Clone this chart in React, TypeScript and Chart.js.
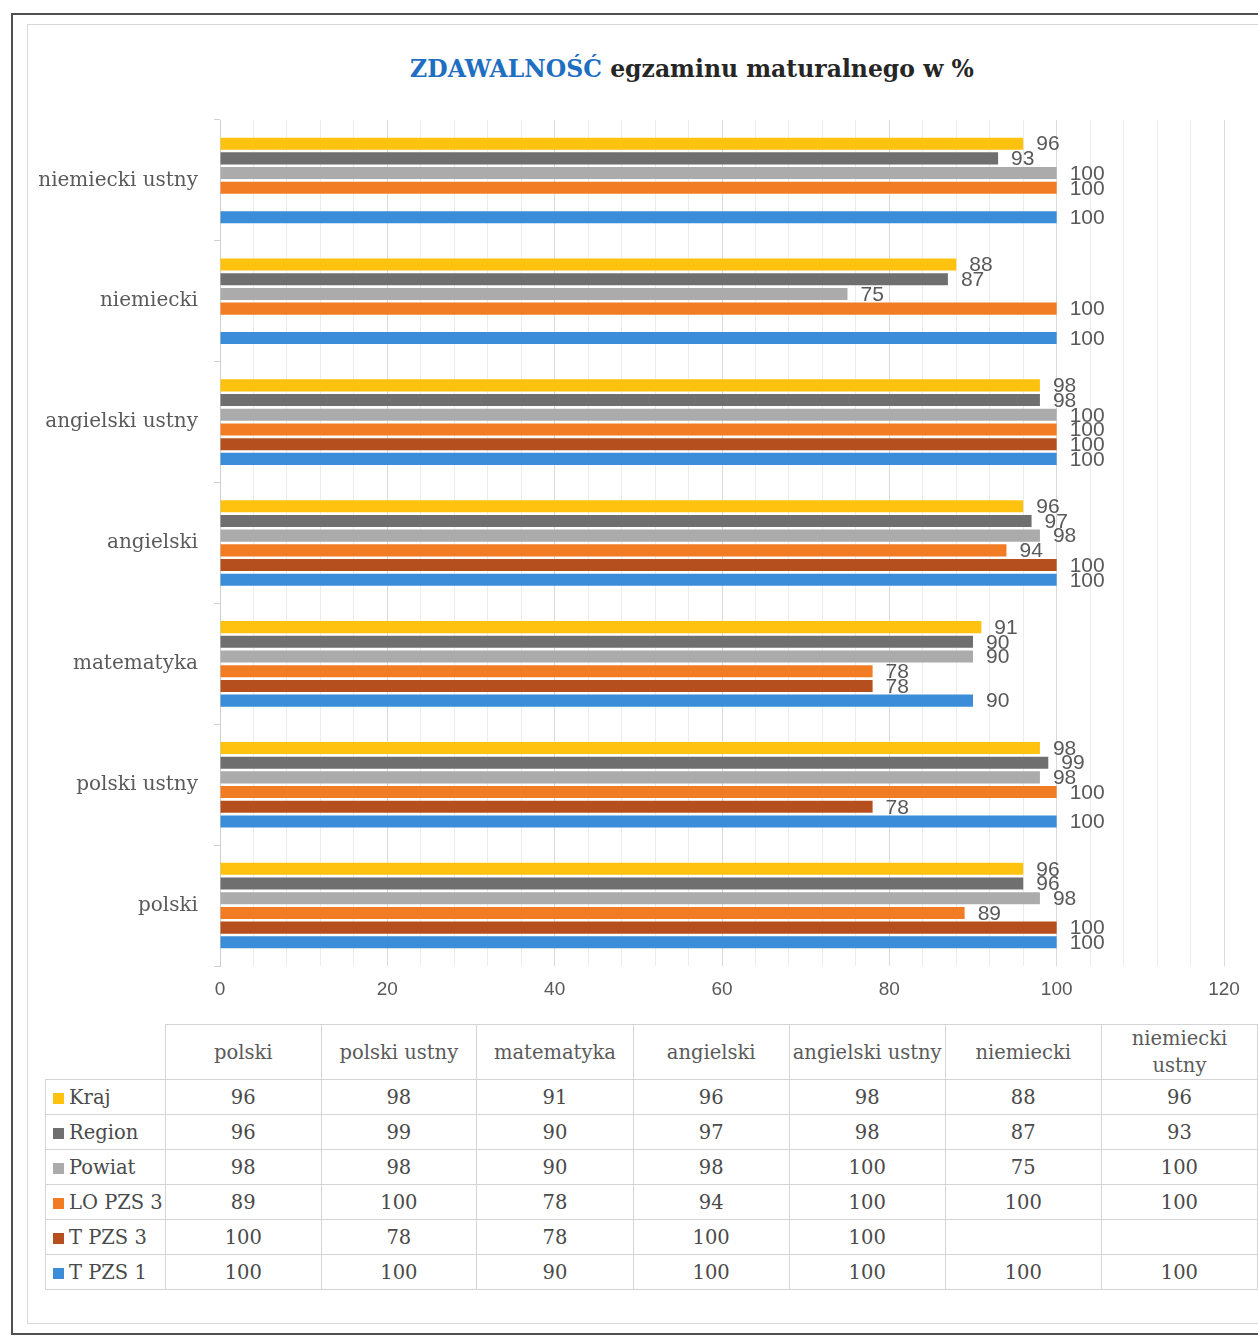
import React, { useEffect, useRef } from "react";
import { Chart, registerables } from "chart.js";

Chart.register(...registerables);

const categories = ["polski", "polski ustny", "matematyka", "angielski", "angielski ustny", "niemiecki", "niemiecki ustny"];
const tableHeaders = ["polski", "polski ustny", "matematyka", "angielski", "angielski ustny", "niemiecki", "niemiecki\nustny"];
const seriesNames = ["Kraj", "Region", "Powiat", "LO PZS 3", "T PZS 3", "T PZS 1"];
const kraj = [96, 98, 91, 96, 98, 88, 96];
const region = [96, 99, 90, 97, 98, 87, 93];
const powiat = [98, 98, 90, 98, 100, 75, 100];
const loPzs3 = [89, 100, 78, 94, 100, 100, 100];
const tPzs3: (number | null)[] = [100, 78, 78, 100, 100, null, null];
const tPzs1 = [100, 100, 90, 100, 100, 100, 100];
const seriesValues = [kraj, region, powiat, loPzs3, tPzs3, tPzs1];
const seriesColors = ["#FFC20E", "#6F6F6F", "#ABABAB", "#F27C24", "#B5501E", "#3B8CD9"];
const xMin = 0;
const xMax = 120;
const xLabelStep = 20;
const xGridStep = 4;

const SERIF = '"DejaVu Serif", "Liberation Serif", serif';
const SANS = '"Liberation Sans Narrow", "Liberation Sans", sans-serif';

const valueLabels = {
  id: "valueLabels",
  afterDatasetsDraw(chart: any) {
    const ctx = chart.ctx;
    ctx.save();
    ctx.font = `21px ${SANS}`;
    ctx.fillStyle = "#595959";
    ctx.textBaseline = "middle";
    ctx.textAlign = "left";
    chart.data.datasets.forEach((ds: any, di: number) => {
      const meta = chart.getDatasetMeta(di);
      meta.data.forEach((el: any, i: number) => {
        const v = ds.data[i];
        if (v === null || v === undefined) return;
        ctx.fillText(String(v), el.x + 13, el.y + 1);
      });
    });
    ctx.restore();
  },
};

function BarChart() {
  const ref = useRef<HTMLCanvasElement | null>(null);
  useEffect(() => {
    if (!ref.current) return;
    const labels = [...categories].reverse();
    const chart = new Chart(ref.current, {
      type: "bar",
      data: {
        labels,
        datasets: seriesNames.map((name, i) => ({
          label: name,
          data: [...seriesValues[i]].reverse(),
          backgroundColor: seriesColors[i],
          categoryPercentage: 0.73,
          barPercentage: 0.82,
        })),
      },
      options: {
        indexAxis: "y",
        animation: false,
        responsive: false,
        devicePixelRatio: 1,
        layout: { padding: { top: 10, right: 34, left: 0, bottom: 0 } },
        plugins: { legend: { display: false }, tooltip: { enabled: false }, title: { display: false } },
        scales: {
          x: {
            min: xMin,
            max: xMax,
            ticks: {
              stepSize: xGridStep,
              autoSkip: false,
              maxRotation: 0,
              padding: 12,
              color: "#595959",
              font: { family: SANS, size: 19 },
              callback: (v: any) => (Number(v) % xLabelStep === 0 ? String(v) : ""),
            },
            grid: {
              color: (c: any) => (c.tick && c.tick.value % xLabelStep === 0 ? "#dadada" : "#ececec"),
              tickLength: 0,
            },
            border: { display: false },
            afterFit: (s: any) => {
              s.height = 44;
              s.paddingLeft = 0;
            },
          },
          y: {
            ticks: {
              color: "#5a5a5a",
              padding: 16,
              font: { family: SERIF, size: 20 },
            },
            grid: { drawOnChartArea: false, tickLength: 6, color: "#d0d0d0" },
            border: { display: true, color: "#d0d0d0" },
            afterFit: (s: any) => {
              s.width = 220;
              s.paddingTop = 0;
              s.paddingBottom = 0;
            },
          },
        },
      },
      plugins: [valueLabels],
    } as any);
    return () => chart.destroy();
  }, []);
  return <canvas ref={ref} width={1258} height={900} style={{ position: "absolute", left: 0, top: 110, width: 1258, height: 900 }} />;
}

function DataTable() {
  const border = "1px solid #d4d4d4";
  const colW = 156;
  const cell: React.CSSProperties = {
    border,
    width: colW,
    textAlign: "center",
    padding: 0,
    height: 34,
    color: "#4a4a4a",
    fontFamily: SERIF,
    fontSize: 19.5,
  };
  return (
    <table
      style={{
        position: "absolute",
        left: 45,
        top: 1024,
        borderCollapse: "collapse",
        tableLayout: "fixed",
      }}
    >
      <colgroup>
        <col style={{ width: 120 }} />
        {tableHeaders.map((_, i) => (
          <col key={i} style={{ width: colW }} />
        ))}
      </colgroup>
      <tbody>
        <tr>
          <td style={{ padding: 0, border: "none" }} />
          {tableHeaders.map((h, i) => (
            <td key={i} style={{ ...cell, height: 54, color: "#5a5a5a", whiteSpace: "pre-line", lineHeight: "27px" }}>
              {h}
            </td>
          ))}
        </tr>
        {seriesNames.map((name, si) => (
          <tr key={si}>
            <td style={{ ...cell, width: undefined, textAlign: "left", paddingLeft: 7, color: "#4a4a4a", whiteSpace: "nowrap" }}>
              <span style={{ display: "inline-block", width: 11, height: 11, background: seriesColors[si], marginRight: 5 }} />
              {name}
            </td>
            {seriesValues[si].map((v, ci) => (
              <td key={ci} style={cell}>
                {v === null ? "" : v}
              </td>
            ))}
          </tr>
        ))}
      </tbody>
    </table>
  );
}

export default function App() {
  return (
    <div style={{ position: "absolute", left: 0, top: 0, width: 1258, height: 1339, overflow: "hidden", background: "#ffffff" }}>
      <div style={{ position: "absolute", left: 11, top: 13, width: 1270, height: 1322, border: "2px solid #505050", boxSizing: "border-box" }} />
      <div style={{ position: "absolute", left: 27, top: 24, width: 1250, height: 1300, border: "1px solid #d8d8d8", boxSizing: "border-box" }} />
      <div
        style={{
          position: "absolute",
          left: 0,
          width: 1384,
          top: 55,
          textAlign: "center",
          fontFamily: SERIF,
          fontWeight: "bold",
          fontSize: 23.5,
          color: "#262626",
          whiteSpace: "nowrap",
        }}
      >
        <span style={{ color: "#1E6EC1" }}>ZDAWALNOŚĆ</span> egzaminu maturalnego w %
      </div>
      <BarChart />
      <DataTable />
    </div>
  );
}
